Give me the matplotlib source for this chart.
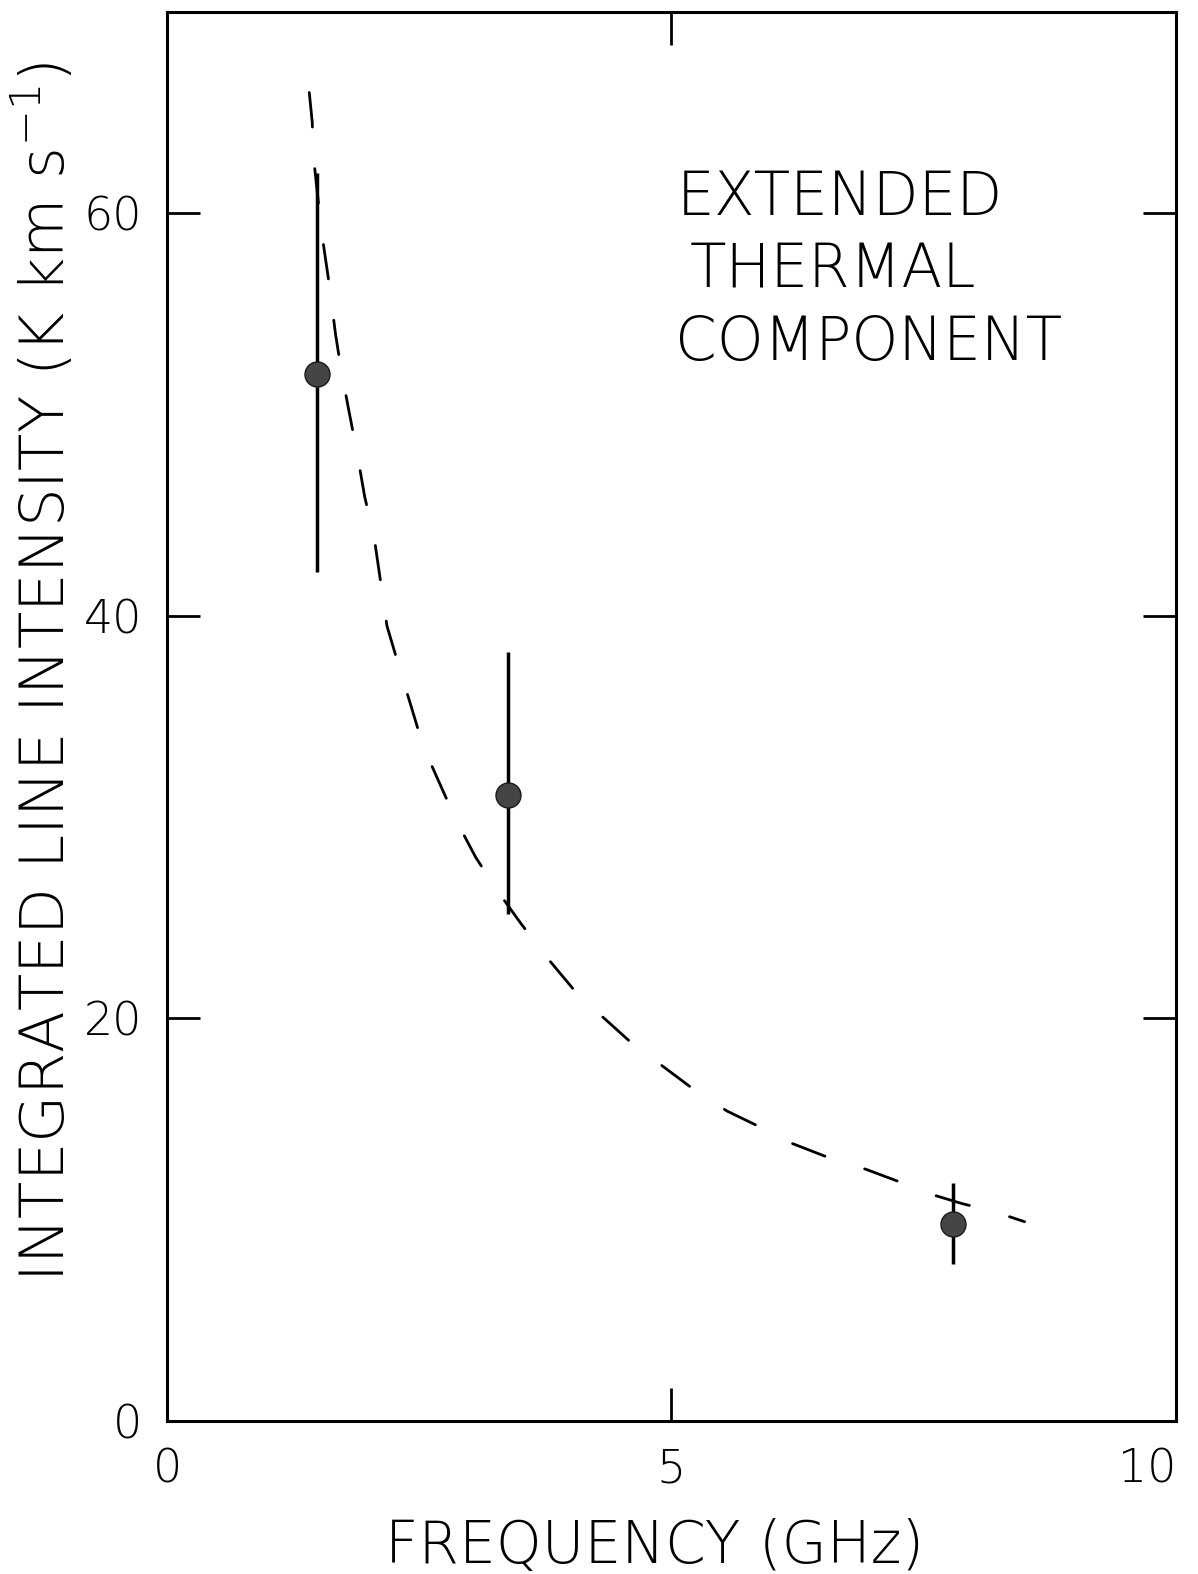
import matplotlib
matplotlib.use("Agg")
import matplotlib.pyplot as plt

# measured integrated intensities (K km/s) at each observing frequency (GHz)
freq = [1.49, 3.38, 7.79]
intensity = [52.0, 31.1, 9.8]
err_low = [9.8, 5.9, 2.0]
err_high = [10.0, 7.1, 2.0]

# model curve for the extended thermal component
model_freq = [1.41, 1.44, 1.45, 1.49, 1.54, 1.61, 1.67, 1.73, 1.81, 1.88,
              1.96, 2.05, 2.12, 2.18, 2.31, 2.42, 2.54, 2.70, 2.87, 3.06,
              3.28, 3.51, 3.77, 4.02, 4.29, 4.60, 4.92, 5.24, 5.55, 5.88,
              6.19, 6.55, 6.93, 7.25, 7.55, 7.88, 8.20, 8.50]
model_int = [66.0, 64.5, 62.9, 61.0, 58.8, 56.4, 54.0, 52.1, 50.0, 48.2,
             45.9, 44.0, 41.6, 39.5, 37.3, 35.5, 33.5, 31.7, 29.8, 28.0,
             26.3, 24.7, 23.0, 21.5, 20.2, 18.8, 17.6, 16.4, 15.4, 14.6,
             13.8, 13.1, 12.5, 11.9, 11.3, 10.8, 10.4, 9.9]

x_ticks = [0, 5, 10]
y_ticks = [0, 20, 40, 60]

FONT = "DejaVu Sans"
WEIGHT = "light"
plt.rcParams["font.family"] = [FONT]
plt.rcParams["font.weight"] = WEIGHT
plt.rcParams["mathtext.fontset"] = "custom"
plt.rcParams["mathtext.rm"] = f"{FONT}:{WEIGHT}"
plt.rcParams["mathtext.it"] = f"{FONT}:{WEIGHT}"

fig = plt.figure(figsize=(11.98, 15.74), dpi=100)
ax = fig.add_axes([0.1394, 0.0972, 0.8422, 0.8952])

ax.plot(model_freq, model_int, color="black", lw=2.0,
        dashes=(12.5, 15), dash_capstyle="round", solid_capstyle="round")

ax.errorbar(freq, intensity, yerr=[err_low, err_high], fmt="o",
            color="black", ecolor="black", elinewidth=2.5, capsize=0,
            markersize=18, markerfacecolor="#454545",
            markeredgecolor="#1a1a1a", markeredgewidth=1.0, zorder=3)

ax.set_xlim(0, 10)
ax.set_ylim(0, 70)
ax.set_xticks(x_ticks)
ax.set_yticks(y_ticks)
ax.set_xticklabels([str(t) for t in x_ticks])
ax.set_yticklabels([str(t) for t in y_ticks])
ax.tick_params(axis="both", direction="in", length=24, width=2.0,
               labelsize=33, top=True, right=True)
ax.tick_params(axis="x", pad=19)
ax.tick_params(axis="y", pad=18)
for lab in ax.get_xticklabels() + ax.get_yticklabels():
    lab.set_fontweight(WEIGHT)
# keep the last frequency label inside the figure edge
ax.get_xticklabels()[-1].set_horizontalalignment("right")
for sp in ax.spines.values():
    sp.set_linewidth(2.2)

fig.text(655 / 1198, 1 - 1563 / 1574, "FREQUENCY (GHz)", fontsize=42,
         fontweight=WEIGHT, ha="center", va="baseline")
fig.text(45 / 1198, 1 - 672 / 1574,
         r"INTEGRATED LINE INTENSITY (K km s$^{-1}$)", fontsize=44,
         fontweight=WEIGHT, ha="center", va="center", rotation=90)

for txt, xp, yp in [("EXTENDED", 677, 215), ("THERMAL", 690, 288),
                    ("COMPONENT", 675, 360)]:
    fig.text(xp / 1198, 1 - yp / 1574, txt, fontsize=43, fontweight=WEIGHT,
             ha="left", va="baseline")

fig.savefig("out.png", dpi=100, facecolor="white")
